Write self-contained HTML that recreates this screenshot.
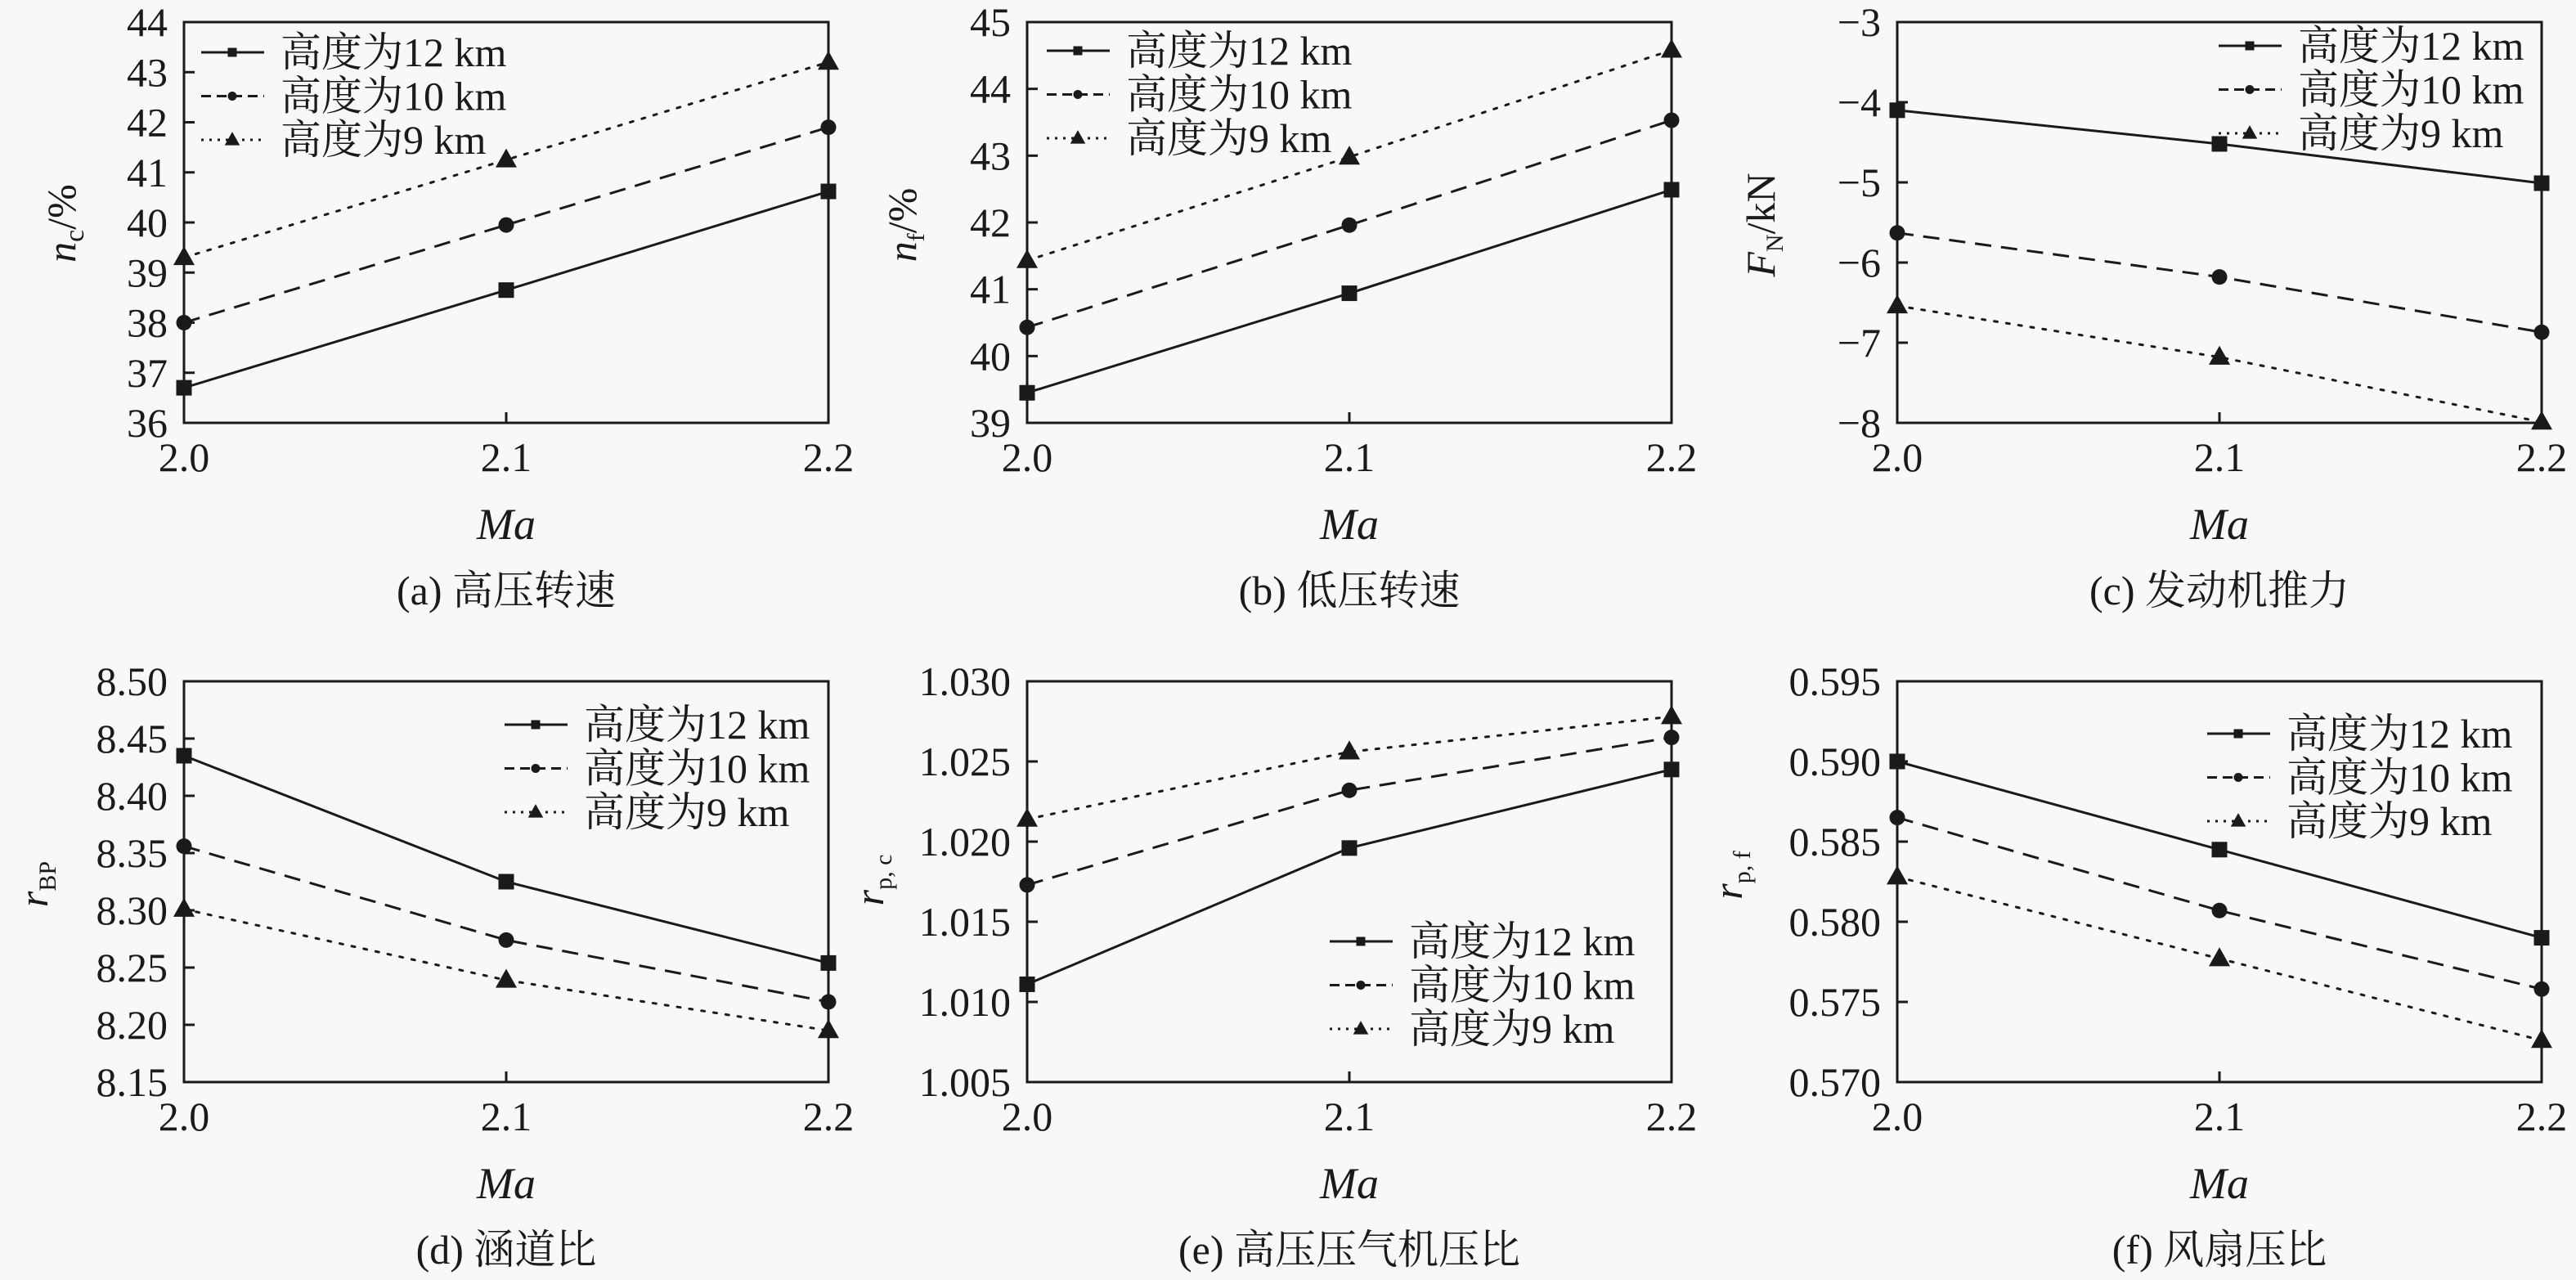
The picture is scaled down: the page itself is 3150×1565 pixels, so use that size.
<!DOCTYPE html>
<html><head><meta charset="utf-8">
<style>
html,body{margin:0;padding:0;background:#f8f8f8;}
svg{display:block;}
text{font-family:"Liberation Serif","Noto Serif CJK SC","Noto Sans CJK SC",serif;fill:#1a1a1a;}
</style></head>
<body>
<svg id="fig" width="3150" height="1565" viewBox="0 0 3150 1565" xmlns="http://www.w3.org/2000/svg">
<rect x="0" y="0" width="3150" height="1565" fill="#f8f8f8"/>
</svg>
<script>
const categories = [2.0, 2.1, 2.2];
const seriesNames = ["高度为12 km","高度为10 km","高度为9 km"];
// panel a
const aH12 = [36.7, 38.65, 40.62];
const aH10 = [38.0, 39.95, 41.9];
const aH9 = [39.3, 41.25, 43.2];
const aTicks = ["36","37","38","39","40","41","42","43","44"];
// panel b
const bH12 = [39.45, 40.94, 42.49];
const bH10 = [40.43, 41.96, 43.53];
const bH9 = [41.43, 42.98, 44.58];
const bTicks = ["39","40","41","42","43","44","45"];
// panel c
const cH12 = [-4.10, -4.52, -5.01];
const cH10 = [-5.63, -6.18, -6.87];
const cH9 = [-6.54, -7.18, -7.99];
const cTicks = ["−8","−7","−6","−5","−4","−3"];
// panel d
const dH12 = [8.435, 8.325, 8.254];
const dH10 = [8.356, 8.274, 8.220];
const dH9 = [8.301, 8.239, 8.195];
const dTicks = ["8.15","8.20","8.25","8.30","8.35","8.40","8.45","8.50"];
// panel e
const eH12 = [1.0111, 1.0196, 1.0245];
const eH10 = [1.0173, 1.0232, 1.0265];
const eH9 = [1.0214, 1.0256, 1.0278];
const eTicks = ["1.005","1.010","1.015","1.020","1.025","1.030"];
// panel f
const fH12 = [0.5900, 0.5845, 0.5790];
const fH10 = [0.5865, 0.5807, 0.5758];
const fH9 = [0.5828, 0.5777, 0.5726];
const fTicks = ["0.570","0.575","0.580","0.585","0.590","0.595"];
const xTickLabels = ["2.0","2.1","2.2"];

const NS = "http://www.w3.org/2000/svg";
const svg = document.getElementById("fig");
function mk(tag, attrs, parent){
  const e = document.createElementNS(NS, tag);
  for (const k in attrs) e.setAttribute(k, attrs[k]);
  (parent||svg).appendChild(e);
  return e;
}
const styles = [
  {dash:"", marker:"square"},
  {dash:"20 12", marker:"circle"},
  {dash:"4 11", marker:"triangle"}
];
function marker(g, type, x, y, s){
  let m;
  if (type==="square") m = mk("rect",{x:x-s/2,y:y-s/2,width:s,height:s,fill:"#1a1a1a"},g);
  else if (type==="circle") m = mk("circle",{cx:x,cy:y,r:s/2,fill:"#1a1a1a"},g);
  else { const h=s*1.1; m = mk("polygon",{points:`${x},${y-h*0.6} ${x-s*0.62},${y+h*0.4} ${x+s*0.62},${y+h*0.4}`,fill:"#1a1a1a"},g); }
  return m;
}

function panel(p){
  const g = mk("g",{});
  
  
  const L=p.left, R=p.left+788, T=p.top, B=p.top+490;
  const nT = p.ticks.length;
  const ymin = parseFloat(p.ticks[0].replace("−","-")), ymax = parseFloat(p.ticks[nT-1].replace("−","-"));
  const xs = v => L + (v - categories[0])/(categories[2]-categories[0])*(R-L);
  const ys = v => B - (v - ymin)/(ymax-ymin)*(B-T);
  // frame
  const fr = mk("rect",{x:L,y:T,width:R-L,height:B-T,fill:"none",stroke:"#1a1a1a","stroke-width":3},g);
  
  
  // y ticks
  p.ticks.forEach((t,i)=>{
    const v = parseFloat(t.replace("−","-"));
    const y = ys(v);
    mk("line",{x1:L,y1:y,x2:L+13,y2:y,stroke:"#1a1a1a","stroke-width":3},g);
    const tx = mk("text",{x:L-20,y:y+17,"font-size":50,"text-anchor":"end"},g);
    tx.textContent = t;
    
    
  });
  // x ticks
  categories.forEach((c,i)=>{
    const x = xs(c);
    mk("line",{x1:x,y1:B,x2:x,y2:B-13,stroke:"#1a1a1a","stroke-width":3},g);
    const tx = mk("text",{x:x,y:B+59,"font-size":50,"text-anchor":"middle"},g);
    tx.textContent = xTickLabels[i];
    
    
  });
  // x title
  const xt = mk("text",{x:(L+R)/2,y:B+142,"font-size":54,"font-style":"italic","text-anchor":"middle"},g);
  xt.textContent = "Ma";
  
  
  // y title
  const yt = mk("text",{transform:`translate(${p.ytx},${p.yty}) rotate(-90)`,"font-size":50,"text-anchor":"middle"},g);
  yt.innerHTML = p.ytitle;
  
  
  // caption
  const cap = mk("text",{x:(L+R)/2,y:B+222,"font-size":50,"text-anchor":"middle"},g);
  cap.textContent = p.caption;
  
  
  // series
  p.series.forEach((vals,si)=>{
    const sg = mk("g",{},g);
    
    
    const pts = vals.map((v,i)=>xs(categories[i])+","+ys(v)).join(" ");
    const pl = mk("polyline",{points:pts,fill:"none",stroke:"#1a1a1a","stroke-width":3,"stroke-dasharray":styles[si].dash,"stroke-linecap":si===2?"round":"butt"},sg);
    
    
    vals.forEach((v,i)=>{
      const m = marker(sg, styles[si].marker, xs(categories[i]), ys(v), si===2?21:19);
      
      
    });
  });
  // legend
  const lg = mk("g",{},g);
  
  
  seriesNames.forEach((n,si)=>{
    const y = p.leg.y + si*53.5;
    const le = mk("g",{},lg);
    
    
    mk("line",{x1:p.leg.x,y1:y,x2:p.leg.x+77,y2:y,stroke:"#1a1a1a","stroke-width":3,"stroke-dasharray":si===1?"12 7":(si===2?"3 7":"")},le);
    marker(le, styles[si].marker, p.leg.x+38, y, si===2?15:11);
    const t = mk("text",{x:p.leg.x+97,y:y+17,"font-size":50},le);
    t.textContent = n;
  });
}

panel({name:"panel-a-hp-speed",left:225,top:27,ticks:aTicks,series:[aH12,aH10,aH9],
  ytx:92,yty:273,ytitle:'<tspan font-style="italic">n</tspan><tspan font-size="34" dy="10">c</tspan><tspan dy="-10">/%</tspan>',
  caption:"(a) 高压转速",leg:{x:246,y:64}});
panel({name:"panel-b-lp-speed",left:1256,top:27,ticks:bTicks,series:[bH12,bH10,bH9],
  ytx:1120,yty:275,ytitle:'<tspan font-style="italic">n</tspan><tspan font-size="30" dy="10">f</tspan><tspan dy="-10">/%</tspan>',
  caption:"(b) 低压转速",leg:{x:1280,y:62}});
panel({name:"panel-c-thrust",left:2320,top:27,ticks:cTicks,series:[cH12,cH10,cH9],
  ytx:2170,yty:275,ytitle:'<tspan font-style="italic">F</tspan><tspan font-size="30" dy="10">N</tspan><tspan dy="-10">/kN</tspan>',
  caption:"(c) 发动机推力",leg:{x:2713,y:56}});
panel({name:"panel-d-bypass-ratio",left:225,top:833,ticks:dTicks,series:[dH12,dH10,dH9],
  ytx:58,yty:1081,ytitle:'<tspan font-style="italic">r</tspan><tspan font-size="30" dy="10">BP</tspan>',
  caption:"(d) 涵道比",leg:{x:617,y:886}});
panel({name:"panel-e-hpc-pressure-ratio",left:1256,top:833,ticks:eTicks,series:[eH12,eH10,eH9],
  ytx:1080,yty:1076,ytitle:'<tspan font-style="italic">r</tspan><tspan font-size="30" dy="10">p, c</tspan>',
  caption:"(e) 高压压气机压比",leg:{x:1626,y:1151}});
panel({name:"panel-f-fan-pressure-ratio",left:2320,top:833,ticks:fTicks,series:[fH12,fH10,fH9],
  ytx:2130,yty:1070,ytitle:'<tspan font-style="italic">r</tspan><tspan font-size="30" dy="10">p, f</tspan>',
  caption:"(f) 风扇压比",leg:{x:2699,y:897}});
</script>
</body></html>
